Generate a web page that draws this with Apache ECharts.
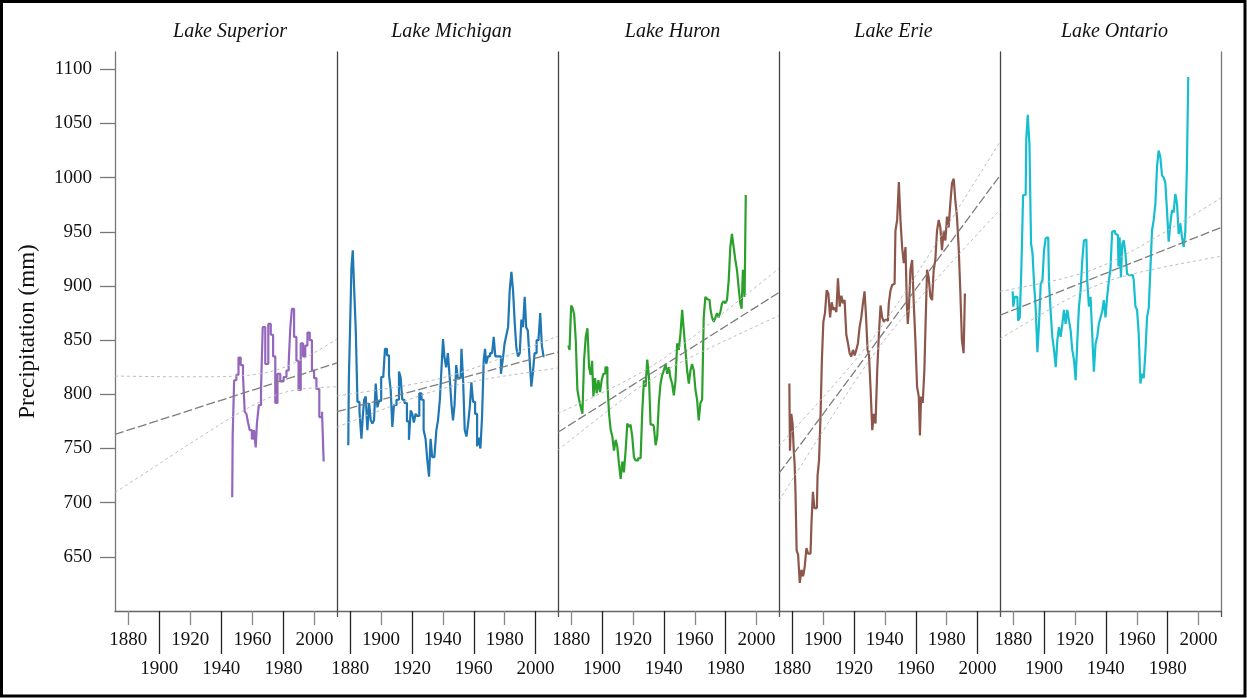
<!DOCTYPE html>
<html>
<head>
<meta charset="utf-8">
<script src="https://cdn.jsdelivr.net/npm/echarts@6/dist/echarts.min.js"></script>
<style>
html,body{margin:0;padding:0;background:#fff;}
#chart{width:1247px;height:698px;}
</style>
</head>
<body>
<div id="chart"></div>
<script>
// ---------- data ----------
const lakeNames = ['Lake Superior', 'Lake Michigan', 'Lake Huron', 'Lake Erie', 'Lake Ontario'];
const lakeColors = ['#9467bd', '#1f77b4', '#2ca02c', '#8c564b', '#17becf'];
const xRange = [1871.5, 2014.5];
const yRange = [600, 1116];
const yTickValues = [650, 700, 750, 800, 850, 900, 950, 1000, 1050, 1100];
const ticksFourty0 = [1880, 1920, 1960, 2000];
const ticksFourty20 = [1900, 1940, 1980];

const superiorYears = [1947.0, 1947.6, 1948.9, 1950.4, 1951.7, 1953.2, 1954.7, 1955.4, 1956.9, 1957.5, 1959.0, 1960.3, 1961.8, 1962.5, 1963.3, 1965.0, 1966.1, 1967.2, 1969.4, 1971.1, 1972.6, 1974.1, 1975.4, 1976.9, 1979.0, 1981.2, 1982.7, 1984.0, 1984.8, 1986.1, 1987.6, 1989.1, 1990.4, 1991.9, 1993.4, 1994.7, 1996.2, 1997.7, 1999.0, 2000.5, 2002.0, 2004.2, 2005.5, 2006.3];
const superiorValues = [705, 762, 813, 818, 834, 827, 817, 784, 782, 774, 767, 759, 767, 751, 773, 790, 804, 862, 828, 865, 855, 835, 792, 819, 812, 816, 822, 828, 861, 879, 853, 831, 804, 847, 835, 845, 857, 850, 822, 815, 805, 779, 784, 738];

const michiganYears = [1878.8, 1879.5, 1880.3, 1881.4, 1882.0, 1883.1, 1884.2, 1885.3, 1886.8, 1887.8,
  1888.5, 1889.6, 1890.6, 1891.7, 1892.8, 1893.9, 1894.9, 1896.0, 1897.1, 1898.2,
  1899.2, 1901.0, 1902.0, 1903.1, 1904.6, 1905.7, 1906.8, 1907.8, 1908.9, 1911.1,
  1912.1, 1913.2, 1914.3, 1916.0, 1917.5, 1918.6, 1919.7, 1920.7, 1921.8, 1922.9,
  1924.0, 1925.5, 1926.8, 1928.3, 1929.3, 1930.6, 1931.5, 1932.6, 1933.6, 1935.4,
  1936.2, 1937.5, 1938.6, 1939.7, 1940.5, 1941.6, 1942.7, 1943.8, 1945.0, 1946.1,
  1947.0, 1948.1, 1949.2, 1950.2, 1951.5, 1952.6, 1953.6, 1954.7, 1955.8, 1956.9,
  1957.9, 1959.0, 1960.1, 1961.6, 1962.7, 1963.8, 1964.8, 1965.9, 1967.0, 1967.6,
  1968.5, 1969.8, 1971.3, 1972.4, 1973.4, 1974.5, 1975.6, 1976.7, 1978.4, 1979.3,
  1980.6, 1981.7, 1982.7, 1983.8, 1984.9, 1986.0, 1987.0, 1988.1, 1989.2, 1990.3,
  1991.3, 1992.4, 1993.5, 1994.3, 1995.6, 1996.7, 1997.8, 1998.8, 1999.9, 2001.4,
  2002.5, 2003.5, 2004.6, 2005.7];
const michiganValues = [753, 813, 858, 917, 933, 899, 859, 793, 784, 759,
  779, 795, 798, 767, 792, 776, 773, 776, 810, 788,
  794, 816, 818, 842, 836, 818, 804, 770, 790, 795,
  821, 816, 795, 792, 775, 758, 785, 782, 774, 782,
  780, 801, 795, 767, 759, 739, 724, 759, 742, 742,
  767, 776, 795, 825, 851, 834, 825, 838, 816, 791,
  776, 790, 827, 815, 815, 842, 813, 767, 761, 773,
  788, 811, 793, 782, 752, 760, 750, 779, 832, 842,
  828, 835, 838, 838, 853, 835, 835, 835, 819, 833,
  847, 855, 862, 896, 913, 895, 866, 843, 835, 838,
  869, 862, 890, 862, 859, 832, 807, 821, 838, 850,
  852, 875, 845, 835];

const huronYears = [1878.2, 1879.7, 1880.3, 1881.4, 1882.5, 1883.5, 1884.6, 1885.7, 1886.8, 1887.8,
  1888.9, 1890.0, 1891.1, 1892.1, 1893.2, 1893.9, 1894.9, 1896.0, 1897.1, 1898.2,
  1899.2, 1900.3, 1901.4, 1902.9, 1904.0, 1905.1, 1906.1, 1907.2, 1908.3, 1909.3,
  1910.4, 1911.5, 1912.6, 1913.6, 1914.7, 1915.8, 1916.9, 1917.9, 1919.0, 1920.1,
  1921.2, 1922.3, 1924.4, 1925.5, 1926.6, 1927.6, 1928.7, 1929.8, 1930.9, 1931.9,
  1933.0, 1934.1, 1935.2, 1936.2, 1937.3, 1938.4, 1939.5, 1940.5, 1941.6, 1942.7,
  1943.8, 1944.8, 1945.9, 1947.0, 1948.1, 1949.1, 1950.2, 1951.3, 1952.4, 1953.4,
  1954.5, 1955.6, 1956.7, 1957.7, 1958.8, 1959.9, 1961.0, 1962.0, 1963.1, 1964.2,
  1965.3, 1966.3, 1967.4, 1968.5, 1969.6, 1970.6, 1971.7, 1972.8, 1973.9, 1974.9,
  1976.0, 1977.1, 1978.2, 1979.2, 1980.3, 1981.4, 1982.5, 1983.5, 1984.6, 1985.7,
  1986.8, 1987.8, 1988.9, 1990.0, 1990.6, 1991.7, 1992.8, 1993.2];
const huronValues = [845, 841, 882, 880, 874, 850, 804, 795, 788, 782,
  831, 853, 861, 825, 818, 831, 798, 815, 801, 813,
  802, 813, 819, 825, 810, 782, 767, 761, 748, 758,
  752, 736, 722, 738, 728, 748, 773, 770, 772, 761,
  742, 739, 741, 742, 785, 813, 807, 832, 816, 772,
  772, 770, 753, 761, 792, 810, 818, 822, 828, 819,
  825, 815, 810, 799, 813, 847, 841, 856, 878, 859,
  841, 822, 810, 822, 828, 822, 804, 795, 776, 792,
  795, 871, 890, 888, 887, 879, 871, 867, 871, 875,
  871, 876, 884, 886, 884, 887, 905, 936, 948, 936,
  924, 915, 899, 884, 879, 915, 890, 984];

const erieYears = [1878.2, 1879.0, 1879.9, 1880.7, 1881.4, 1881.8, 1882.5, 1883.3, 1884.4, 1885.5,
  1886.6, 1887.6, 1888.7, 1889.8, 1890.9, 1891.9, 1893.0, 1893.9, 1894.9, 1896.0,
  1896.9, 1897.9, 1898.8, 1899.7, 1900.7, 1901.8, 1902.9, 1904.0, 1905.1, 1906.1,
  1907.0, 1908.1, 1909.1, 1910.2, 1911.3, 1912.4, 1913.4, 1914.5, 1915.6, 1916.7,
  1917.7, 1918.8, 1919.9, 1921.0, 1922.0, 1923.1, 1924.2, 1925.3, 1926.3, 1927.4,
  1928.3, 1929.3, 1930.2, 1931.3, 1932.4, 1933.4, 1934.5, 1935.6, 1936.7, 1937.7,
  1938.8, 1939.9, 1941.0, 1942.0, 1943.1, 1944.2, 1945.3, 1946.3, 1947.4, 1948.5,
  1949.6, 1950.6, 1951.7, 1952.8, 1953.9, 1954.5, 1955.2, 1956.0, 1957.1, 1958.2,
  1959.2, 1960.3, 1961.4, 1962.5, 1962.9, 1964.0, 1965.0, 1966.1, 1966.8, 1967.8,
  1968.9, 1970.0, 1971.1, 1972.1, 1973.2, 1974.3, 1975.4, 1976.4, 1977.5, 1978.6,
  1979.7, 1980.7, 1981.8, 1982.9, 1984.0, 1985.1, 1986.1, 1987.2, 1988.3, 1989.3,
  1990.4, 1991.5, 1992.1];
const erieValues = [810, 748, 782, 773, 748, 736, 711, 656, 652, 626,
  638, 632, 641, 658, 653, 653, 679, 710, 695, 695,
  725, 739, 779, 832, 867, 875, 896, 893, 871, 885,
  878, 880, 876, 907, 881, 891, 884, 887, 855, 847,
  838, 835, 841, 836, 841, 847, 862, 871, 884, 895,
  871, 841, 836, 805, 767, 782, 773, 822, 856, 882,
  871, 867, 869, 868, 884, 896, 901, 902, 951, 961,
  996, 961, 936, 921, 936, 884, 865, 881, 915, 924,
  884, 850, 807, 798, 762, 798, 792, 822, 871, 915,
  908, 890, 887, 915, 924, 951, 961, 954, 933, 951,
  942, 964, 954, 976, 995, 999, 979, 964, 936, 896,
  850, 838, 893];

const ontarioYears = [1879.7, 1880.5, 1881.6, 1882.7, 1883.8, 1884.8, 1885.9, 1887.0, 1888.1, 1888.9,
  1890.0, 1891.1, 1892.1, 1893.0, 1894.1, 1895.2, 1896.2, 1897.3, 1898.4, 1899.5,
  1900.5, 1901.6, 1902.7, 1903.8, 1904.8, 1905.9, 1907.0, 1908.1, 1909.1, 1910.2,
  1911.3, 1912.4, 1913.4, 1914.5, 1915.6, 1916.7, 1917.7, 1918.8, 1919.9, 1921.0,
  1922.1, 1923.1, 1924.2, 1925.3, 1926.3, 1927.4, 1928.5, 1929.6, 1930.6, 1931.7,
  1932.8, 1933.9, 1934.9, 1936.0, 1937.1, 1938.2, 1939.2, 1940.3, 1941.4, 1942.5,
  1943.5, 1944.6, 1945.7, 1946.8, 1947.8, 1948.5, 1949.3, 1950.2, 1951.1, 1952.1,
  1953.2, 1954.3, 1955.4, 1957.5, 1958.6, 1959.7, 1960.7, 1961.8, 1962.9, 1964.0,
  1965.0, 1966.1, 1967.2, 1968.3, 1969.3, 1970.4, 1971.5, 1972.6, 1973.6, 1974.7,
  1975.8, 1976.9, 1978.0, 1979.0, 1980.1, 1981.2, 1982.3, 1983.3, 1984.4, 1985.5,
  1986.6, 1987.6, 1988.7, 1989.8, 1990.9, 1991.9, 1993.0, 1993.6];
const ontarioValues = [895, 881, 890, 890, 868, 871, 918, 984, 984, 1036,
  1058, 1031, 939, 930, 902, 878, 839, 865, 902, 905,
  933, 944, 945, 902, 876, 853, 841, 825, 850, 862,
  853, 865, 878, 865, 878, 868, 859, 841, 832, 813,
  850, 881, 896, 924, 942, 943, 905, 881, 890, 856,
  821, 847, 853, 865, 871, 877, 887, 871, 890, 905,
  916, 950, 951, 948, 947, 918, 945, 908, 939, 942,
  930, 911, 910, 910, 905, 881, 878, 856, 810, 819,
  815, 838, 871, 880, 915, 951, 961, 976, 1010, 1025,
  1019, 1002, 1000, 995, 970, 941, 958, 970, 968, 985,
  976, 948, 958, 945, 936, 950, 1011, 1093];

// linear trend end values (read at panel edges) and confidence band curves
const trendYears = [1871.5, 2014.5];
const superiorTrend = [763, 829];
const michiganTrend = [784, 839];
const huronTrend = [765, 894];
const erieTrend = [727, 1002];
const ontarioTrend = [873, 954];

const superiorBandYears = [1871.5, 1890, 1910, 1930, 1950, 1965, 1977, 1990, 2002, 2014.5];
const superiorUpper = [816.9, 816.5, 816.2, 816.2, 816.9, 819.1, 823.2, 830.9, 840.2, 851.0];
const superiorLower = [709.5, 726.5, 745.4, 763.8, 781.5, 793.1, 800.2, 804.5, 806.2, 807.0];

const michiganBandYears = [1871.5, 1900, 1920, 1942, 1965, 1990, 2014.5];
const michiganUpper = [798.6, 804.5, 809.2, 816.1, 826.7, 840.1, 853.7];
const michiganLower = [769.8, 785.5, 796.2, 806.1, 813.3, 819.1, 824.3];

const huronBandYears = [1871.5, 1900, 1920, 1933, 1950, 1975, 2000, 2014.5];
const huronUpper = [782.4, 801.4, 816.0, 826.8, 843.6, 871.2, 899.7, 916.3];
const huronLower = [748.6, 780.6, 802.2, 814.8, 828.8, 846.4, 863.1, 872.6];

const erieBandYears = [1871.5, 1900, 1920, 1935, 1950, 1975, 2000, 2014.5];
const erieUpper = [752.5, 797.3, 830.1, 857.1, 887.8, 943.2, 1000.1, 1033.0];
const erieLower = [701.7, 766.3, 810.5, 841.1, 868.2, 908.8, 948.1, 970.3];

const ontarioBandYears = [1871.5, 1900, 1920, 1935, 1950, 1975, 2000, 2014.5];
const ontarioUpper = [895.0, 903.0, 909.9, 917.1, 927.0, 947.1, 968.5, 981.2];
const ontarioLower = [851.3, 875.4, 891.3, 901.1, 908.4, 916.7, 923.7, 927.5];

// ---------- layout ----------
const panelLeft = [115, 337, 558, 779, 1000];
const panelWidth = [222, 221, 221, 221, 221];
const gridTop = 52, gridHeight = 559;
const serif = '"Liberation Serif", "DejaVu Serif", serif';

const panels = [
  {years: superiorYears, values: superiorValues, trend: superiorTrend, by: superiorBandYears, up: superiorUpper, lo: superiorLower, upper: ticksFourty0, lower: ticksFourty20},
  {years: michiganYears, values: michiganValues, trend: michiganTrend, by: michiganBandYears, up: michiganUpper, lo: michiganLower, upper: ticksFourty20, lower: ticksFourty0},
  {years: huronYears, values: huronValues, trend: huronTrend, by: huronBandYears, up: huronUpper, lo: huronLower, upper: ticksFourty0, lower: ticksFourty20},
  {years: erieYears, values: erieValues, trend: erieTrend, by: erieBandYears, up: erieUpper, lo: erieLower, upper: ticksFourty20, lower: ticksFourty0},
  {years: ontarioYears, values: ontarioValues, trend: ontarioTrend, by: ontarioBandYears, up: ontarioUpper, lo: ontarioLower, upper: ticksFourty0, lower: ticksFourty20}
];

const zip = (xs, ys) => xs.map((x, i) => [x, ys[i]]);
const plain = v => String(Math.round(v));
const labelStyle = {fontFamily: serif, fontSize: 19, color: '#111'};

const grids = [], xAxes = [], yAxes = [], series = [], graphics = [];

panels.forEach((p, i) => {
  grids.push({left: panelLeft[i], top: gridTop, width: panelWidth[i], height: gridHeight, containLabel: false});
  // short ticks with upper labels
  xAxes.push({
    type: 'value', gridIndex: i, position: 'bottom', min: xRange[0], max: xRange[1],
    splitLine: {show: false},
    axisLine: {show: true, onZero: false, lineStyle: {color: '#666', width: 1.3}},
    axisTick: {show: true, customValues: p.upper, length: 14, lineStyle: {color: '#888', width: 1.3}},
    axisLabel: Object.assign({show: true, customValues: p.upper, margin: 20, formatter: plain}, labelStyle)
  });
  // long ticks with lower labels
  xAxes.push({
    type: 'value', gridIndex: i, position: 'bottom', min: xRange[0], max: xRange[1],
    splitLine: {show: false},
    axisLine: {show: false, onZero: false},
    axisTick: {show: true, customValues: p.lower, length: 43, lineStyle: {color: '#222', width: 1.3}},
    axisLabel: Object.assign({show: true, customValues: p.lower, margin: 49, formatter: plain}, labelStyle)
  });
  // small extension of the panel boundary below the axis
  xAxes.push({
    type: 'value', gridIndex: i, position: 'bottom', min: xRange[0], max: xRange[1],
    splitLine: {show: false},
    axisLine: {show: false, onZero: false},
    axisTick: {show: true, customValues: [xRange[1]], length: 6, lineStyle: {color: '#555', width: 1.3}},
    axisLabel: {show: false}
  });
  const ya = {
    type: 'value', gridIndex: i, position: 'left', min: yRange[0], max: yRange[1],
    splitLine: {show: false},
    axisLine: {show: true, onZero: false, lineStyle: {color: i === 0 ? '#777' : '#444', width: 1.3}},
    axisTick: {show: false},
    axisLabel: {show: false}
  };
  if (i === 0) {
    ya.axisTick = {show: true, customValues: yTickValues, length: 15, lineStyle: {color: '#777', width: 1.3}};
    ya.axisLabel = Object.assign({show: true, customValues: yTickValues, margin: 23, formatter: plain}, labelStyle);
    ya.name = 'Precipitation (mm)';
    ya.nameLocation = 'middle';
    ya.nameGap = 76;
    ya.nameTextStyle = {fontFamily: serif, fontSize: 23, color: '#111'};
  }
  yAxes.push(ya);

  const xi = 3 * i, yi = i;
  series.push({
    type: 'line', xAxisIndex: xi, yAxisIndex: yi, data: zip(p.years, p.values),
    step: 'middle', showSymbol: false, symbol: 'none',
    lineStyle: {color: lakeColors[i], width: 2.2}, z: 3, silent: true
  });
  series.push({
    type: 'line', xAxisIndex: xi, yAxisIndex: yi, data: zip(trendYears, p.trend),
    showSymbol: false, symbol: 'none',
    lineStyle: {color: '#7d7d7d', width: 1.3, type: [9, 3]}, z: 4, silent: true
  });
  series.push({
    type: 'line', xAxisIndex: xi, yAxisIndex: yi, data: zip(p.by, p.up), smooth: 0.4,
    showSymbol: false, symbol: 'none',
    lineStyle: {color: '#bdbdbd', width: 1, type: [3, 3]}, z: 4, silent: true
  });
  series.push({
    type: 'line', xAxisIndex: xi, yAxisIndex: yi, data: zip(p.by, p.lo), smooth: 0.4,
    showSymbol: false, symbol: 'none',
    lineStyle: {color: '#bdbdbd', width: 1, type: [3, 3]}, z: 4, silent: true
  });

  graphics.push({
    type: 'text', x: panelLeft[i] + panelWidth[i] / 2 + 4, y: 32,
    style: {text: lakeNames[i], font: 'italic 20px ' + serif, fill: '#111', textAlign: 'center', textVerticalAlign: 'middle'}
  });
});

// right spine of last panel
yAxes.push({
  type: 'value', gridIndex: 4, position: 'right', min: yRange[0], max: yRange[1],
  splitLine: {show: false},
  axisLine: {show: true, onZero: false, lineStyle: {color: '#777', width: 1.3}},
  axisTick: {show: false}, axisLabel: {show: false}
});

// outer frame
graphics.push({
  type: 'rect', shape: {x: 1.5, y: 1.5, width: 1243.5, height: 694.5},
  style: {fill: 'none', stroke: '#000', lineWidth: 3}, silent: true, z: 100
});

const chart = echarts.init(document.getElementById('chart'), null, {renderer: 'canvas'});
chart.setOption({
  animation: false,
  backgroundColor: '#fff',
  grid: grids,
  xAxis: xAxes,
  yAxis: yAxes,
  series: series,
  graphic: graphics
});
</script>
</body>
</html>
